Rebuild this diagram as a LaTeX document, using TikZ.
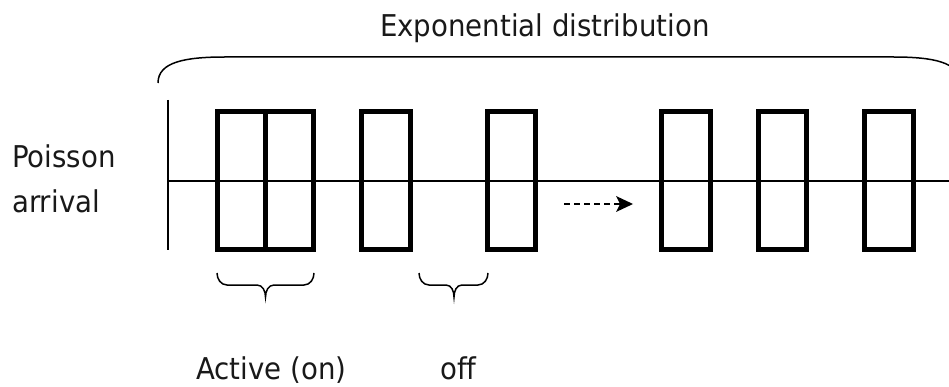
\documentclass[tikz,border=0pt]{standalone}
\usepackage{fontspec}
\setmainfont{DejaVu Sans}[FakeStretch=0.92,Ligatures=NoCommon]
\usetikzlibrary{arrows.meta}
\begin{document}
\begin{tikzpicture}[x=1pt,y=-1pt,
  lbl/.style={inner sep=0pt,anchor=base west,font=\fontsize{30}{36}\selectfont,text=black!90},
  pkt/.style={draw,line width=5pt,rectangle,inner sep=0pt,minimum height=138pt},
  thin/.style={line width=1.5pt},
  brc/.style={line width=1.5pt}]
\useasboundingbox (0,0) rectangle (949,387);
\clip (0,0) rectangle (949,387);
% labels
\node[lbl] (exp) at (380,37) {Exponential distribution};
\node[lbl] (poi) at (12,168) {Poisson};
\node[lbl] (arr) at (12,213) {arrival};
\node[lbl] (act) at (196,379) {Active (on)};
\node[lbl] (off) at (440,379) {of\kern0ptf};
% axes
\coordinate (vt) at (168,100);
\coordinate (vb) at (168,250);
\coordinate (hl) at (168,181);
\coordinate (hr) at (949,181);
\draw[thin] (vt) -- (vb);
\draw[thin] (hl) -- (hr);
% packets
\node[pkt,minimum width=47.5pt] (b1a) at (241.25,180.5) {};
\node[pkt,minimum width=48.5pt] (b1b) at (289.25,180.5) {};
\node[pkt,minimum width=49pt] (b2) at (386,180.5) {};
\node[pkt,minimum width=48pt] (b3) at (511.5,180.5) {};
\node[pkt,minimum width=49pt] (b4) at (686,180.5) {};
\node[pkt,minimum width=48pt] (b5) at (782.5,180.5) {};
\node[pkt,minimum width=49pt] (b6) at (889,180.5) {};
% dashed arrow
\coordinate (as) at (564,204);
\coordinate (ae) at (633,204);
\draw[line width=1.8pt,dash pattern=on 6pt off 4pt,-{Stealth[length=17pt,width=16pt,inset=4pt,line width=0pt]}] (as) -- (ae);
% top brace
\draw[brc] (158,83) .. controls (158,62) and (185,57) .. (225,57) -- (893,57)
  .. controls (933,57) and (960,62) .. (960,83);
% small braces
\draw[brc] (217,273) to[out=-90,in=180] (227,285) -- (257,285)
  to[out=0,in=90] (265.5,297) to[out=90,in=180] (274,285) -- (304,285)
  to[out=0,in=-90] (314,273);
\draw[brc] (419,273) to[out=-90,in=180] (429,285) -- (446,285)
  to[out=0,in=90] (454,297) to[out=90,in=180] (462,285) -- (478,285)
  to[out=0,in=-90] (488,273);
\end{tikzpicture}
\end{document}
